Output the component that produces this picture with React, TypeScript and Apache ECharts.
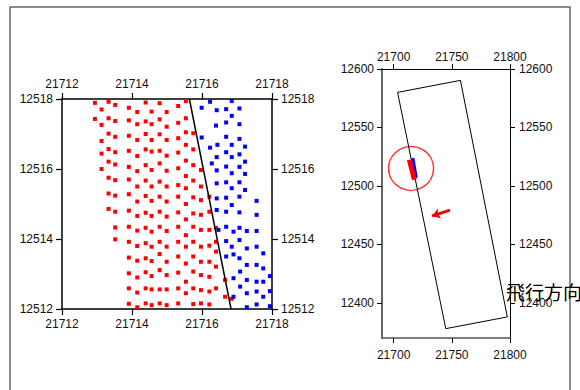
import React, { useEffect, useRef } from "react";
import * as echarts from "echarts";

// ---- Detail plot (left) ----
const redColX = [21712.94, 21713.13, 21713.33, 21713.52, 21713.91, 21714.15, 21714.39, 21714.56, 21714.79, 21714.99, 21715.32, 21715.54, 21715.75, 21715.97, 21716.21, 21716.4, 21716.66, 21716.85];
const redColY = [
  [12517.89, 12517.43],
  [12517.7, 12517.26, 12516.8, 12516.44, 12516.0],
  [12517.92, 12517.45, 12517.01, 12516.57, 12516.21, 12515.75, 12515.3, 12514.86],
  [12517.83, 12517.37, 12516.92, 12516.48, 12516.13, 12515.68, 12515.24, 12514.78, 12514.33, 12513.99],
  [12517.75, 12517.39, 12516.95, 12516.52, 12516.06, 12515.7, 12515.28, 12514.81, 12514.35, 12513.92, 12513.47, 12513.02, 12512.59, 12512.15],
  [12517.63, 12517.28, 12516.83, 12516.37, 12515.94, 12515.5, 12515.07, 12514.66, 12514.24, 12513.8, 12513.38, 12512.9, 12512.47, 12512.05],
  [12517.9, 12517.36, 12517.0, 12516.56, 12516.11, 12515.67, 12515.23, 12514.75, 12514.32, 12513.88, 12513.45, 12513.05, 12512.59, 12512.16],
  [12517.64, 12517.28, 12516.83, 12516.5, 12515.97, 12515.5, 12515.09, 12514.66, 12514.21, 12513.78, 12513.37, 12512.94, 12512.56, 12512.11],
  [12517.88, 12517.42, 12516.99, 12516.52, 12516.16, 12515.64, 12515.21, 12514.78, 12514.35, 12513.92, 12513.57, 12513.11, 12512.56, 12512.16],
  [12517.63, 12517.21, 12516.83, 12516.38, 12515.95, 12515.5, 12515.07, 12514.64, 12514.23, 12513.78, 12513.35, 12512.97, 12512.56, 12512.11],
  [12517.8, 12517.32, 12516.88, 12516.47, 12516.02, 12515.54, 12515.21, 12514.76, 12514.35, 12513.92, 12513.5, 12513.04, 12512.59, 12512.16],
  [12517.94, 12517.45, 12517.05, 12516.69, 12516.24, 12515.8, 12515.45, 12515.0, 12514.56, 12514.11, 12513.78, 12513.3, 12512.78, 12512.45],
  [12517.02, 12516.56, 12516.11, 12515.67, 12515.19, 12514.73, 12514.35, 12513.92, 12513.5, 12513.07, 12512.59, 12512.14],
  [12515.97, 12515.5, 12515.11, 12514.69, 12514.26, 12513.78, 12513.35, 12512.97, 12512.54, 12512.16],
  [12515.21, 12514.78, 12514.26, 12513.81, 12513.35, 12512.92, 12512.5, 12512.13],
  [12514.32, 12513.92, 12513.64, 12513.21, 12512.59],
  [12512.83, 12512.35],
  [12512.29],
];

const bluePoints: [number, number][] = [
  [21716.23, 12517.92], [21716.85, 12517.94], [21715.99, 12517.75], [21716.42, 12517.68], [21716.69, 12517.71], [21717.07, 12517.73],
  [21716.85, 12517.52], [21716.4, 12517.24], [21716.69, 12517.33], [21717.07, 12517.28], [21715.99, 12516.9], [21716.69, 12516.92],
  [21717.07, 12516.86], [21716.44, 12516.69], [21716.85, 12516.69], [21717.23, 12516.64], [21716.23, 12516.61], [21716.69, 12516.48],
  [21717.07, 12516.42], [21716.42, 12516.34], [21716.85, 12516.34], [21717.23, 12516.21], [21716.28, 12516.16], [21716.69, 12516.07],
  [21717.07, 12516.06], [21716.42, 12515.96], [21716.85, 12515.88], [21717.23, 12515.86], [21716.69, 12515.62], [21717.07, 12515.62],
  [21716.42, 12515.59], [21716.85, 12515.45], [21717.23, 12515.4], [21716.69, 12515.18], [21717.07, 12515.21], [21716.42, 12515.16],
  [21716.85, 12514.97], [21717.56, 12515.09], [21716.69, 12514.78], [21717.07, 12514.76], [21716.42, 12514.83], [21717.56, 12514.69],
  [21716.47, 12514.26], [21716.69, 12514.35], [21717.07, 12514.32], [21716.9, 12514.21], [21717.28, 12514.23], [21717.56, 12514.23],
  [21716.69, 12513.94], [21717.07, 12513.97], [21716.85, 12513.78], [21717.56, 12513.78], [21717.28, 12513.73], [21717.75, 12513.59],
  [21716.9, 12513.56], [21716.69, 12513.5], [21717.07, 12513.45], [21717.28, 12513.26], [21717.56, 12513.26], [21717.75, 12513.16],
  [21716.9, 12512.88], [21717.09, 12513.07], [21717.28, 12512.83], [21717.56, 12512.78], [21717.94, 12512.94], [21717.75, 12512.78],
  [21717.09, 12512.64], [21717.28, 12512.45], [21717.56, 12512.5], [21717.94, 12512.51], [21716.9, 12512.35], [21717.75, 12512.35],
  [21717.28, 12512.05], [21717.56, 12512.13], [21717.94, 12512.08],
];

const boundaryLine: [number, number][] = [[21715.64, 12518], [21716.83, 12512]];

// ---- Overview plot (right) ----
const swathCorners: [number, number][] = [[21703.4, 12580], [21757.4, 12590.3], [21797.7, 12388], [21744.8, 12378], [21703.4, 12580]];
const targetCenter: [number, number] = [21715, 12515];
const redTrack: [number, number][] = [[21713.5, 12522.4], [21717.8, 12505.3]];
const blueTrack: [number, number][] = [[21716.5, 12524], [21719.5, 12507]];
const flightArrow: [number, number][] = [[21748.5, 12479.3], [21733, 12474.4]];
const overviewXTicks = [21700, 21750, 21800];
const overviewYTicks = [12400, 12450, 12500, 12550, 12600];
const directionLabel = "飛行方向";

const redPoints: [number, number][] = [];
redColX.forEach((x, i) => redColY[i].forEach((y) => redPoints.push([x, y])));

const FONT = "'Liberation Sans', Arial, sans-serif";
const labelStyle = { color: "#111", fontSize: 12, fontFamily: FONT, formatter: (v: number) => String(v) };

function detailAxis(pos: string, min: number, max: number) {
  return {
    type: "value",
    gridIndex: 0,
    position: pos,
    min,
    max,
    interval: 2,
    axisLine: { show: true, onZero: false, lineStyle: { color: "#000", width: 1.5 } },
    axisTick: { show: true, inside: false, length: 6, lineStyle: { color: "#000", width: 1.2 } },
    axisLabel: { show: true, margin: 9, showMinLabel: true, showMaxLabel: true, ...labelStyle },
    splitLine: { show: false },
  };
}

function overviewAxis(pos: string, min: number, max: number, ticks: number[], color: string, width: number, margin: number) {
  return {
    type: "value",
    gridIndex: 1,
    position: pos,
    min,
    max,
    axisLine: { show: true, onZero: false, lineStyle: { color, width } },
    axisTick: { show: true, inside: false, length: 5, customValues: ticks, lineStyle: { color: "#000", width: 1 } },
    axisLabel: { show: true, margin, customValues: ticks, ...labelStyle },
    splitLine: { show: false },
  };
}

export default function App() {
  const ref = useRef<HTMLDivElement>(null);
  useEffect(() => {
    document.body.style.margin = "0";
    const chart = echarts.init(ref.current!, null, { renderer: "svg" });
    chart.setOption({
      animation: false,
      backgroundColor: "#fff",
      grid: [
        { left: 62, top: 99, width: 210, height: 210, outerBoundsMode: "none" },
        { left: 382, top: 69, width: 128, height: 269, outerBoundsMode: "none" },
      ],
      xAxis: [
        detailAxis("bottom", 21712, 21718),
        detailAxis("top", 21712, 21718),
        overviewAxis("bottom", 21690, 21800, overviewXTicks, "#555", 1.5, 11),
        overviewAxis("top", 21690, 21800, overviewXTicks, "#000", 1, 6),
      ],
      yAxis: [
        detailAxis("left", 12512, 12518),
        detailAxis("right", 12512, 12518),
        overviewAxis("left", 12370, 12600, overviewYTicks, "#666", 2, 8),
        overviewAxis("right", 12370, 12600, overviewYTicks, "#000", 1, 9),
      ],
      graphic: [
        {
          type: "rect",
          shape: { x: 10, y: 7, width: 560, height: 400 },
          style: { fill: "none", stroke: "#666", lineWidth: 1.5 },
          silent: true,
        },
        {
          type: "text",
          left: 506,
          top: 282,
          z: 100,
          style: { text: directionLabel, fontSize: 19, fontFamily: "'Noto Sans CJK JP', sans-serif", fill: "#000" },
        },
      ],
      series: [
        {
          type: "scatter",
          xAxisIndex: 0,
          yAxisIndex: 0,
          data: redPoints,
          symbol: "rect",
          symbolSize: 4,
          itemStyle: { color: "#ff0000", opacity: 1 },
        },
        {
          type: "scatter",
          xAxisIndex: 0,
          yAxisIndex: 0,
          data: bluePoints,
          symbol: "rect",
          symbolSize: 4,
          itemStyle: { color: "#0000ff", opacity: 1 },
        },
        {
          type: "line",
          xAxisIndex: 0,
          yAxisIndex: 0,
          data: boundaryLine,
          symbol: "none",
          lineStyle: { color: "#000", width: 1.5 },
        },
        {
          type: "line",
          xAxisIndex: 2,
          yAxisIndex: 2,
          data: swathCorners,
          symbol: "none",
          lineStyle: { color: "#000", width: 1 },
        },
        {
          type: "line",
          xAxisIndex: 2,
          yAxisIndex: 2,
          data: blueTrack,
          symbol: "none",
          lineStyle: { color: "#0000ff", width: 3 },
        },
        {
          type: "line",
          xAxisIndex: 2,
          yAxisIndex: 2,
          data: redTrack,
          symbol: "none",
          lineStyle: { color: "#ff0000", width: 5 },
        },
        {
          type: "scatter",
          xAxisIndex: 2,
          yAxisIndex: 2,
          data: [targetCenter],
          symbol: "circle",
          symbolSize: [45, 44],
          itemStyle: { color: "rgba(0,0,0,0)", borderColor: "#ff0000", borderWidth: 1.5 },
        },
        {
          type: "lines",
          coordinateSystem: "cartesian2d",
          xAxisIndex: 2,
          yAxisIndex: 2,
          data: [{ coords: flightArrow }],
          symbol: ["none", "arrow"],
          symbolSize: 8,
          lineStyle: { color: "#ff0000", width: 3, opacity: 1 },
        },
      ],
    });
    return () => chart.dispose();
  }, []);
  return <div ref={ref} style={{ width: 580, height: 390 }} />;
}
